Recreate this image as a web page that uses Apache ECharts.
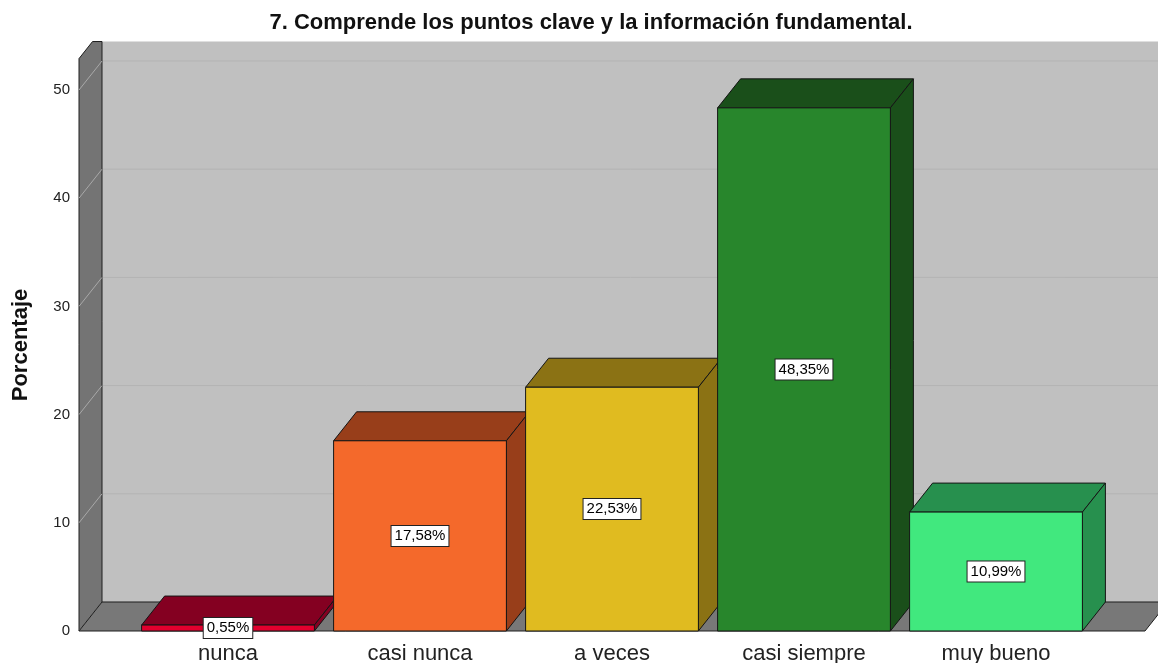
<!DOCTYPE html>
<html>
<head>
<meta charset="utf-8">
<script src="https://cdn.jsdelivr.net/npm/echarts@6/dist/echarts.min.js"></script>
<style>
  html, body { margin: 0; padding: 0; background: #ffffff; }
  #chart { width: 1158px; height: 663px; }
</style>
</head>
<body>
<div id="chart"></div>
<script>
// Data
const categories = ['nunca', 'casi nunca', 'a veces', 'casi siempre', 'muy bueno'];
const percentages = [0.55, 17.58, 22.53, 48.35, 10.99];
const valueLabels = ['0,55%', '17,58%', '22,53%', '48,35%', '10,99%'];
const yTicks = [0, 10, 20, 30, 40, 50];

// Colours per category: front face and the darker top/side faces
const frontColors = ['#e2002e', '#f4692b', '#e0bb20', '#28862c', '#41e87e'];
const shadeColors = ['#840021', '#983e1a', '#8b7214', '#1a4f1a', '#27904e'];

// 3D depth offset of the pseudo-perspective
const DX = 23, DY = -29;
const FONT = '"Liberation Sans", Arial, sans-serif';

const chart = echarts.init(document.getElementById('chart'), null, { renderer: 'canvas' });

// Walls, floor and gridlines of the 3D box
function renderScene(params, api) {
  const y0 = api.coord([0, 0])[1];
  const first = api.coord([0, 0])[0];
  const last = api.coord([categories.length - 1, 0])[0];
  const band = api.size([1, 0])[0];
  const xL = first - band / 2 - 53;
  const xR = last + band / 2 + 53;
  const yTopFront = api.coord([0, 52.9])[1];
  const yClip = api.coord([0, 51.8])[1] + DY;
  const W = api.getWidth();
  const tCut = (yTopFront - yClip) / (-DY);
  const children = [];

  // back wall
  children.push({
    type: 'rect',
    shape: { x: xL + DX, y: yClip, width: W - xL - DX + 5, height: y0 + DY - yClip },
    style: { fill: '#c0c0c0', stroke: null }
  });
  // gridlines on the back wall
  yTicks.forEach(function (v) {
    const yv = api.coord([0, v])[1] + DY;
    children.push({
      type: 'line',
      shape: { x1: xL + DX, y1: yv, x2: W + 5, y2: yv },
      style: { stroke: '#b3b3b3', lineWidth: 1 }
    });
  });
  // left wall
  children.push({
    type: 'polygon',
    shape: { points: [
      [xL, y0], [xL, yTopFront], [xL + DX * tCut, yClip], [xL + DX, yClip], [xL + DX, y0 + DY]
    ] },
    style: { fill: '#747474', stroke: '#1e1e1e', lineWidth: 1 }
  });
  // gridlines on the left wall
  yTicks.forEach(function (v) {
    const yv = api.coord([0, v])[1];
    children.push({
      type: 'line',
      shape: { x1: xL, y1: yv, x2: xL + DX, y2: yv + DY },
      style: { stroke: '#a9a9a9', lineWidth: 1 }
    });
  });
  // floor
  children.push({
    type: 'polygon',
    shape: { points: [[xL, y0], [xR, y0], [xR + DX, y0 + DY], [xL + DX, y0 + DY]] },
    style: { fill: '#787878', stroke: '#1e1e1e', lineWidth: 1 }
  });
  return { type: 'group', children: children, silent: true };
}

// One 3D bar per category
function renderBar(params, api) {
  const i = api.value(0);
  const v = api.value(1);
  const base = api.coord([i, 0]);
  const top = api.coord([i, v]);
  const w = api.size([1, 0])[0] * 0.9;
  const x0 = base[0] - w / 2, x1 = base[0] + w / 2;
  const yB = base[1], yT = top[1];
  const edge = { stroke: '#151515', lineWidth: 1 };
  return {
    type: 'group',
    children: [
      {
        type: 'polygon',
        shape: { points: [[x0, yT], [x0 + DX, yT + DY], [x1 + DX, yT + DY], [x1, yT]] },
        style: Object.assign({ fill: shadeColors[i] }, edge)
      },
      {
        type: 'polygon',
        shape: { points: [[x1, yT], [x1 + DX, yT + DY], [x1 + DX, yB + DY], [x1, yB]] },
        style: Object.assign({ fill: shadeColors[i] }, edge)
      },
      {
        type: 'rect',
        shape: { x: x0, y: yT, width: w, height: yB - yT },
        style: Object.assign({ fill: frontColors[i] }, edge)
      }
    ]
  };
}

// Value boxes centred on each front face
function renderLabel(params, api) {
  const i = api.value(0);
  const v = api.value(1);
  const base = api.coord([i, 0]);
  const top = api.coord([i, v]);
  return {
    type: 'text',
    x: base[0],
    y: (base[1] + top[1]) / 2,
    z2: 10,
    style: {
      text: valueLabels[i],
      font: '15px ' + FONT,
      fill: '#000000',
      align: 'center',
      verticalAlign: 'middle',
      backgroundColor: '#ffffff',
      borderColor: '#222222',
      borderWidth: 1,
      padding: [3, 3, 2, 3]
    }
  };
}

const barData = percentages.map(function (p, i) { return [i, p]; });

chart.setOption({
  animation: false,
  grid: { left: 132, right: 66, top: 90, bottom: 32, containLabel: false, outerBoundsMode: 'none' },
  xAxis: {
    type: 'category',
    data: categories,
    axisLine: { show: false },
    axisTick: { show: false },
    axisLabel: { color: '#222222', fontSize: 22, fontFamily: FONT, margin: 12, interval: 0 },
    splitLine: { show: false }
  },
  yAxis: {
    type: 'value',
    min: 0,
    max: 50,
    interval: 10,
    axisLine: { show: false },
    axisTick: { show: false },
    splitLine: { show: false },
    axisLabel: { color: '#222222', fontSize: 15, fontFamily: FONT, margin: 62 }
  },
  graphic: [
    {
      type: 'text', x: 591, y: 23,
      style: {
        text: '7. Comprende los puntos clave y la información fundamental.',
        font: 'bold 22px ' + FONT, fill: '#111111', align: 'center', verticalAlign: 'middle'
      }
    },
    {
      type: 'text', x: 21, y: 345, rotation: Math.PI / 2,
      style: {
        text: 'Porcentaje',
        font: 'bold 22px ' + FONT, fill: '#111111', align: 'center', verticalAlign: 'middle'
      }
    }
  ],
  series: [
    { type: 'custom', name: 'escena', renderItem: renderScene, data: [[0, 0]], z: 1, silent: true, clip: false },
    { type: 'custom', name: 'Porcentaje', renderItem: renderBar, data: barData, z: 2, clip: false },
    { type: 'custom', name: 'etiquetas', renderItem: renderLabel, data: barData, z: 3, clip: false }
  ]
});
</script>
</body>
</html>
